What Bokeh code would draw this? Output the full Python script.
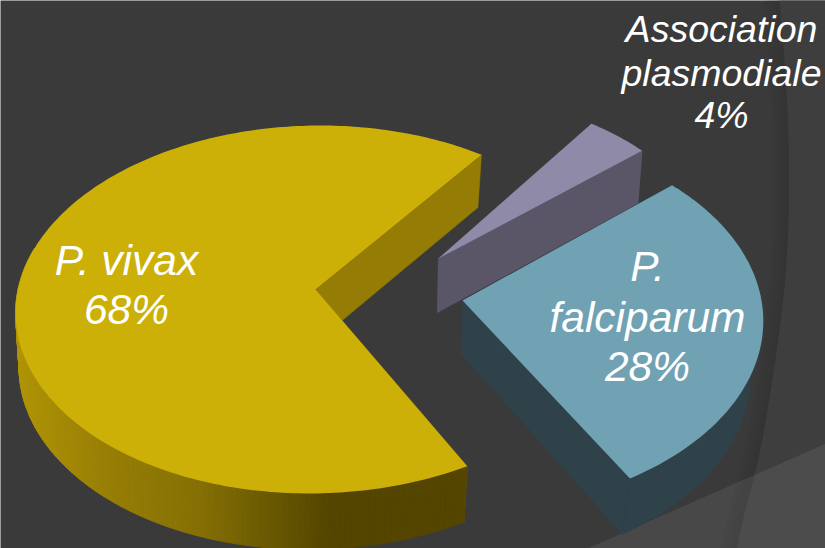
import numpy as np
from bokeh.plotting import figure
from bokeh.embed import file_html
from bokeh.resources import INLINE
from bokeh.core.properties import value

# ---- data ----
categories = ["P. vivax", "Association plasmodiale", "P. falciparum"]
shares = [68, 4, 28]
label_lines = [["P. vivax", "68%"], ["Association", "plasmodiale", "4%"], ["P.", "falciparum", "28%"]]

# ---- styling / layout ----
BG = "#3a3a3a"
TOP = ["#ccb007", "#8f8aa8", "#70a2b3"]
WALL = ["#947c05", "#5a5668", "#2f4249"]
APEX = [(315, 289), (438, 258), (462, 300)]
ROT = [0.0, 0.0, -2.0]
XSCALE = [0.995, 0.94, 1.0]
YSCALE = [1.0, 1.0, 1.03]
SHEAR = [-0.03, 0.0, 0.0]
WALL_SX = [0.985, 0.985, 0.96]
START_DEG = 61.5
RX, RY, K = 299.0, 181.8, 0.1087
DEPTH, SY, BX = 54.0, 1.01, -1.0
LABEL_POS = [(126, [260, 309]), (721, [28, 72, 114]), (647, [266, 317, 366])]
LABEL_SIZE = ["42.5px", "37.5px", "42.5px"]
GRAD_X = [20, 100, 200, 300, 330, 470]
GRAD_R = [176, 153, 133, 94, 84, 84]
GRAD_G = [148, 128, 112, 79, 69, 69]
GRAD_B = [6, 5, 5, 2, 0, 0]

W, H = 825, 548
p = figure(width=W, height=H, x_range=(0, W), y_range=(H, 0),
           toolbar_location=None, output_backend="svg",
           background_fill_color=BG, border_fill_color=BG, outline_line_color=None,
           min_border=0, x_axis_location=None, y_axis_location=None)
p.grid.visible = False


def top_outline(a0, a1, i):
    apex = APEX[i]
    t = np.radians(np.linspace(a0 + ROT[i], a1 + ROT[i], max(8, int(a1 - a0))))
    u, v = np.cos(t), np.sin(t)
    w = 1 - K * v
    dy = YSCALE[i] * RY * v / w
    return apex[0] + XSCALE[i] * RX * u / w + SHEAR[i] * dy, apex[1] + dy


def lower(x, y, i):
    apex = APEX[i]
    return apex[0] + (x - apex[0]) * WALL_SX[i] + BX, apex[1] + (y - apex[1]) * SY + DEPTH


# backdrop decoration: curved band and lighter corner
arc_x = np.array([778, 786, 789, 787, 778, 760, 733], dtype=float)
arc_y = np.array([-5, 80, 170, 260, 340, 453, 553], dtype=float)
ay = np.linspace(-5, 553, 60)
ax = np.interp(ay, arc_y, arc_x)
ax = np.convolve(np.pad(ax, 4, mode="edge"), np.ones(9) / 9, mode="valid")
p.patch(list(ax) + [830, 830], list(ay) + [553, -5], fill_color="#3e3e3e", line_color=None)
for i in range(8):
    p.patch(list(ax - 2.0 * i) + list((ax - 2.0 * (i + 1))[::-1]), list(ay) + list(ay[::-1]),
            fill_color="#2c2c2c", fill_alpha=0.40 - 0.045 * i, line_color=None)
p.patch([567, 830, 830], [556.8, 441, 556.8], fill_color="#ffffff", fill_alpha=0.075, line_color=None)

# pie wedges, computed from the shares
fracs = np.cumsum([0] + shares) / sum(shares) * 360 + START_DEG
order = [1, 2, 0]
for i in order:
    a0, a1 = fracs[i], fracs[i + 1]
    apex = APEX[i]
    x, y = top_outline(a0, a1, i)
    bx, by = lower(x, y, i)
    ax0, ay0 = apex
    bax, bay = lower(np.array([ax0]), np.array([ay0]), i)
    # radial walls
    for (ex, ey, ebx, eby) in [(x[0], y[0], bx[0], by[0]), (x[-1], y[-1], bx[-1], by[-1])]:
        p.patch([ax0, ex, ebx, bax[0]], [ay0, ey, eby, bay[0]], fill_color=WALL[i], line_color=WALL[i], line_width=0.5)
    # outer wall
    if i == 0:
        xs, ys, cols = [], [], []
        for j in range(len(x) - 1):
            if y[j] < 250 and y[j + 1] < 250:
                continue
            xm = (x[j] + x[j + 1]) / 2
            c = "#%02x%02x%02x" % (int(np.interp(xm, GRAD_X, GRAD_R)), int(np.interp(xm, GRAD_X, GRAD_G)), int(np.interp(xm, GRAD_X, GRAD_B)))
            xs.append([x[j], x[j + 1], bx[j + 1], bx[j]])
            ys.append([y[j], y[j + 1], by[j + 1], by[j]])
            cols.append(c)
        p.patches(xs, ys, fill_color=cols, line_color=cols, line_width=1)
    else:
        p.patch(list(x) + list(bx[::-1]), list(y) + list(by[::-1]), fill_color=WALL[i], line_color=WALL[i], line_width=0.5)
    # top face
    p.patch([ax0] + list(x), [ay0] + list(y), fill_color=TOP[i], line_color=None)

# labels
for i in range(3):
    cx, ys_ = LABEL_POS[i]
    p.text([cx] * len(ys_), ys_, text=label_lines[i], text_color="white", text_align="center",
           text_baseline="alphabetic", text_font=value("Liberation Sans"), text_font_style="italic",
           text_font_size=value(LABEL_SIZE[i]))

open("out.html", "w").write(file_html(p, INLINE))
